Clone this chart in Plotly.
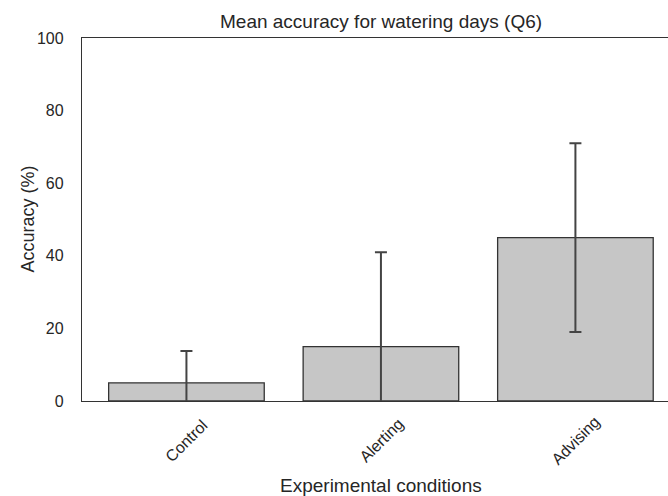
import plotly.graph_objects as go

# Mean accuracy per experimental condition, with error bar half-widths
conditions = ["Control", "Alerting", "Advising"]
mean_accuracy = [5, 15, 45]
error_halfwidth = [8.8, 26, 26]
y_ticks = [0, 20, 40, 60, 80, 100]

W, H = 668, 496
L, R, T, B = 82, 0, 38, 95
plot_h = H - T - B

text_col = "#262626"
font_family = "Liberation Sans, Arial, sans-serif"

fig = go.Figure()
fig.add_trace(go.Bar(
    x=list(range(len(conditions))),
    y=mean_accuracy,
    width=0.8,
    marker=dict(color="#c6c6c6", line=dict(color="#333333", width=1.3)),
    error_y=dict(type="data", array=error_halfwidth, arrayminus=error_halfwidth,
                 symmetric=False, color="#444444", thickness=2, width=6),
    showlegend=False,
))

# rotated category labels, centred under each bar
annotations = []
for i, name in enumerate(conditions):
    annotations.append(dict(
        x=i, y=-(440 - (T + plot_h)) / plot_h, xref="x", yref="paper",
        text=name, showarrow=False, textangle=-45,
        xanchor="center", yanchor="middle",
        font=dict(size=16, color=text_col, family=font_family),
    ))

annotations.append(dict(
    x=1, y=-(485 - (T + plot_h)) / plot_h, xref="x", yref="paper",
    text="Experimental conditions", showarrow=False,
    xanchor="center", yanchor="middle",
    font=dict(size=19, color=text_col, family=font_family),
))
annotations.append(dict(
    x=(27 - L) / (W - L - R), y=0.5, xref="paper", yref="paper",
    text="Accuracy (%)", showarrow=False, textangle=-90,
    xanchor="center", yanchor="middle",
    font=dict(size=18, color=text_col, family=font_family),
))
annotations.append(dict(
    x=1, y=1 + (T - 21) / plot_h, xref="x", yref="paper",
    text="Mean accuracy for watering days (Q6)", showarrow=False,
    xanchor="center", yanchor="middle",
    font=dict(size=19, color=text_col, family=font_family),
))

fig.update_layout(
    width=W, height=H,
    margin=dict(l=L, r=R, t=T, b=B, pad=0),
    paper_bgcolor="white", plot_bgcolor="white",
    font=dict(family=font_family, color=text_col),
    annotations=annotations,
    xaxis=dict(
        range=[-0.537, 2.476], showticklabels=False, ticks="",
        showgrid=False, zeroline=False,
        showline=True, mirror=True, linecolor="#333333", linewidth=1.3,
    ),
    yaxis=dict(
        range=[0, 100], tickvals=y_ticks, ticktext=[str(v) for v in y_ticks],
        ticks="", ticklabelstandoff=14, showgrid=False, zeroline=False,
        showline=True, mirror=False, linecolor="#333333", linewidth=1.3,
        tickfont=dict(size=16, color=text_col, family=font_family),
    ),
)

fig.write_html("out.html")
